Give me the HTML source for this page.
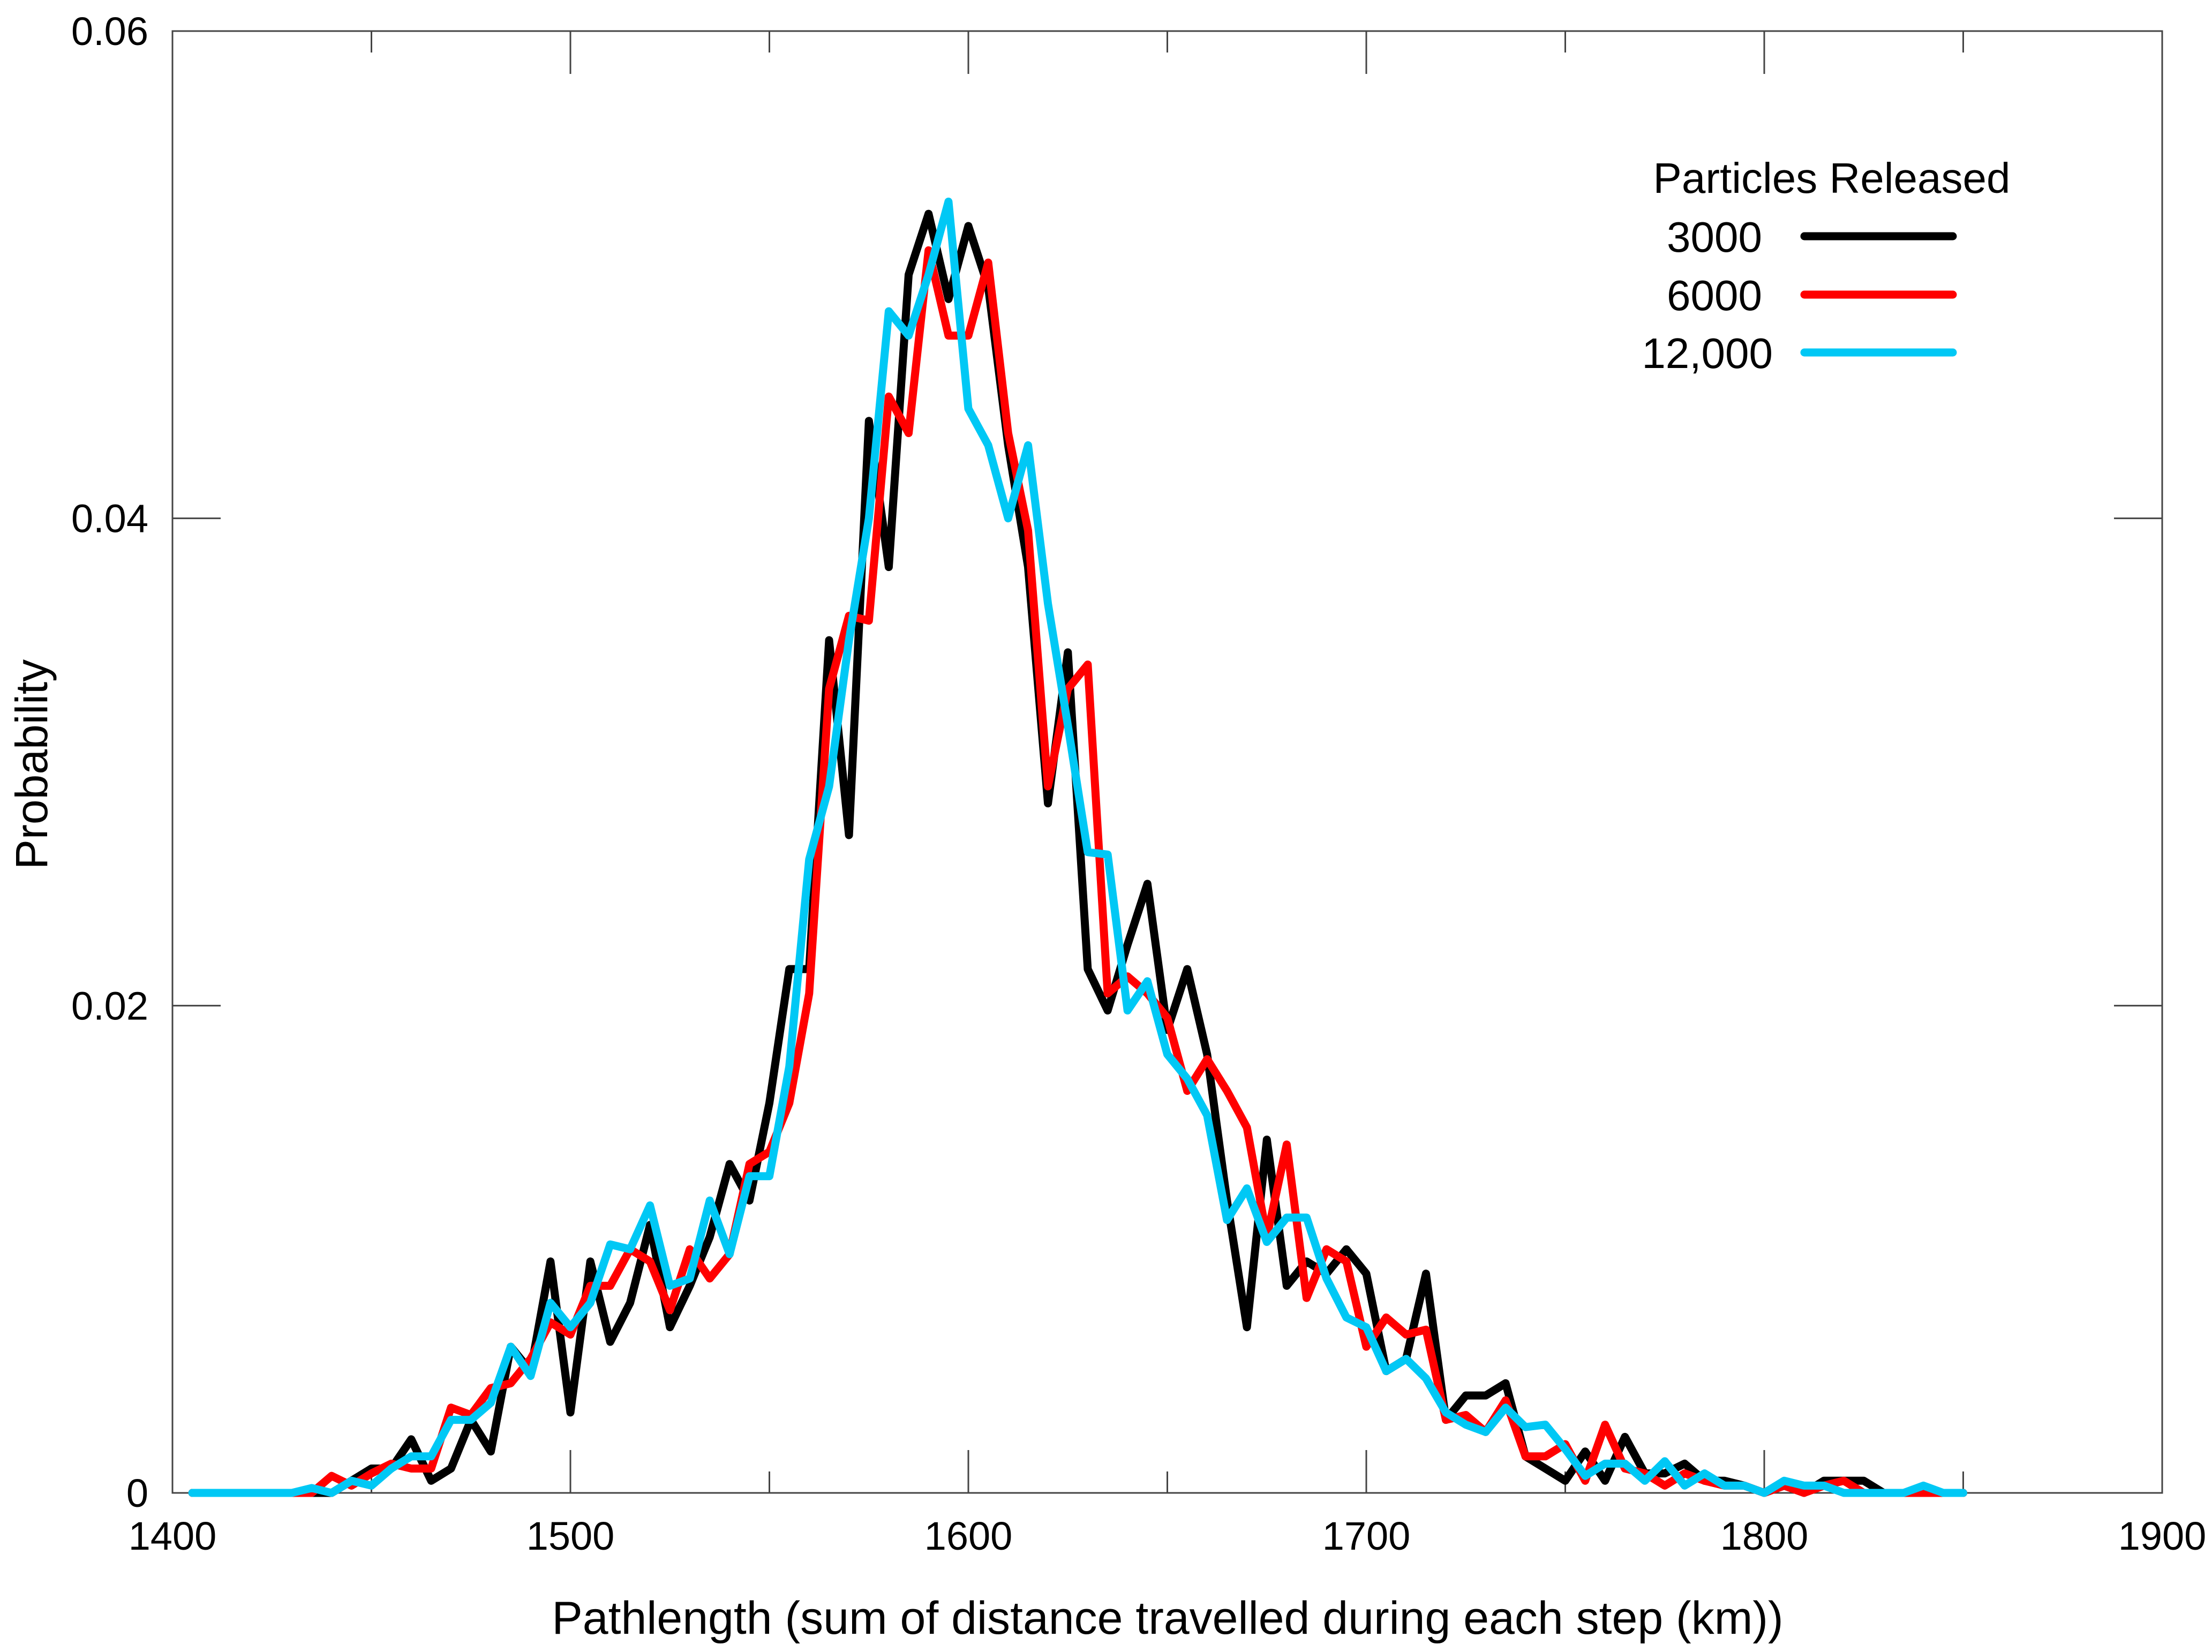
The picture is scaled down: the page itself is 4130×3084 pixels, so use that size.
<!DOCTYPE html>
<html><head><meta charset="utf-8"><style>
html,body{margin:0;padding:0;background:#fff;}
svg{display:block;font-family:"Liberation Sans",Arial,sans-serif;}
</style></head><body>
<svg id="chart" width="4130" height="3084" viewBox="0 0 4130 3084" xmlns="http://www.w3.org/2000/svg">
<rect x="0" y="0" width="4130" height="3084" fill="#fff"/>
<g id="axes"></g>
<g id="series"></g>
<text x="2180" y="3050" font-size="86" text-anchor="middle" fill="#000">Pathlength (sum of distance travelled during each step (km))</text>
<text transform="translate(88,1427) rotate(-90)" font-size="84" text-anchor="middle" fill="#000">Probability</text>
<g>
<text x="3420" y="360" font-size="80" text-anchor="middle">Particles Released</text>
<text x="3290" y="470" font-size="80" text-anchor="end">3000</text>
<line x1="3369" y1="441" x2="3646" y2="441" stroke="#000" stroke-width="15" stroke-linecap="round"/>
<text x="3290" y="579" font-size="80" text-anchor="end">6000</text>
<line x1="3369" y1="550" x2="3646" y2="550" stroke="#f00" stroke-width="15" stroke-linecap="round"/>
<text x="3310" y="687" font-size="80" text-anchor="end">12,000</text>
<line x1="3369" y1="658" x2="3646" y2="658" stroke="#00c8f5" stroke-width="15" stroke-linecap="round"/>
</g>
</svg>
<script>
const xStart = 1405, xStep = 5;
const s3000 = [0,0,0,0,0,0,0,0,0.0005,0.001,0.001,0.0022,0.0005,0.001,0.003,0.0017,0.006,0.005,0.0095,0.0033,0.0095,0.0062,0.0078,0.011,0.0068,0.0085,0.0105,0.0135,0.012,0.016,0.0215,0.0215,0.035,0.027,0.044,0.038,0.05,0.0525,0.049,0.052,0.0495,0.043,0.038,0.0283,0.0345,0.0215,0.0198,0.0225,0.025,0.019,0.0215,0.018,0.012,0.0068,0.0145,0.0085,0.0095,0.009,0.01,0.009,0.005,0.0055,0.009,0.003,0.004,0.004,0.0045,0.0015,0.001,0.0005,0.0017,0.0005,0.0023,0.0008,0.0008,0.0012,0.0005,0.0005,0.0003,0,0.0003,0,0.0005,0.0005,0.0005,0,0,0,0,0];
const s6000 = [0,0,0,0,0,0,0,0.0007,0.0003,0.0008,0.0012,0.001,0.001,0.0035,0.0032,0.0043,0.0045,0.0055,0.007,0.0065,0.0085,0.0085,0.01,0.0095,0.0075,0.01,0.0088,0.0098,0.0135,0.014,0.016,0.0205,0.033,0.036,0.0358,0.045,0.0435,0.051,0.0475,0.0475,0.0505,0.0435,0.0395,0.029,0.033,0.034,0.0205,0.0212,0.0205,0.0195,0.0165,0.0178,0.0165,0.015,0.0105,0.0143,0.008,0.01,0.0095,0.006,0.0072,0.0065,0.0067,0.003,0.0032,0.0025,0.0038,0.0015,0.0015,0.002,0.0005,0.0028,0.001,0.0008,0.0003,0.0008,0.0005,0.0003,0.0003,0,0.0003,0,0.0003,0.0005,0,0,0,0,0,0];
const s12000 = [0,0,0,0,0,0,0.0002,0,0.0005,0.0003,0.001,0.0015,0.0015,0.003,0.003,0.0037,0.006,0.0048,0.0078,0.0068,0.0078,0.0102,0.01,0.0118,0.0085,0.0088,0.012,0.0098,0.013,0.013,0.0175,0.026,0.029,0.035,0.04,0.0485,0.0475,0.05,0.053,0.0445,0.043,0.04,0.043,0.0365,0.0315,0.0263,0.0262,0.0198,0.021,0.018,0.017,0.0155,0.0112,0.0125,0.0103,0.0113,0.0113,0.0088,0.0072,0.0068,0.005,0.0055,0.0047,0.0033,0.0028,0.0025,0.0035,0.0027,0.0028,0.0018,0.0007,0.0012,0.0012,0.0005,0.0013,0.0003,0.0008,0.0003,0.0003,0,0.0005,0.0003,0.0003,0,0,0,0,0.0003,0,0];
const xTicks = [1400,1500,1600,1700,1800,1900];
const xMinor = [1450,1550,1650,1750,1850];
const yTicks = [0,0.02,0.04,0.06];
const yLabels = ["0","0.02","0.04","0.06"];

const L=322,R=4037,T=58,B=2787;
const X = v => L + (v-1400)/(1900-1400)*(R-L);
const Y = v => B - v/0.06*(B-T);
const NS="http://www.w3.org/2000/svg";
const axes=document.getElementById('axes');
function mk(tag, attrs, parent){const e=document.createElementNS(NS,tag);for(const k in attrs)e.setAttribute(k,attrs[k]);parent.appendChild(e);return e;}
const frame=mk('rect',{x:L,y:T,width:R-L,height:B-T,fill:'none',stroke:'#444','stroke-width':3},axes);


xTicks.forEach(v=>{
  const t1=mk('line',{x1:X(v),x2:X(v),y1:B,y2:B-80,stroke:'#444','stroke-width':3},axes);
  
  
  const t2=mk('line',{x1:X(v),x2:X(v),y1:T,y2:T+80,stroke:'#444','stroke-width':3},axes);
  
  
  const lb=mk('text',{x:X(v),y:2893,'font-size':74,'text-anchor':'middle',fill:'#000'},axes);
  lb.textContent=v;
  
  
});
xMinor.forEach(v=>{
  const t=mk('line',{x1:X(v),x2:X(v),y1:B,y2:B-40,stroke:'#444','stroke-width':3},axes);
  
  
  const t2=mk('line',{x1:X(v),x2:X(v),y1:T,y2:T+40,stroke:'#444','stroke-width':3},axes);
  
  
});
yTicks.forEach((v,i)=>{
  const t=mk('line',{x1:L,x2:L+90,y1:Y(v),y2:Y(v),stroke:'#444','stroke-width':3},axes);
  
  
  const t2=mk('line',{x1:R,x2:R-90,y1:Y(v),y2:Y(v),stroke:'#444','stroke-width':3},axes);
  
  
  const lb=mk('text',{x:277,y:Y(v)+26,'font-size':74,'text-anchor':'end',fill:'#000'},axes);
  lb.textContent=yLabels[i];
  
  
});
const series=document.getElementById('series');
[[s3000,'#000','line-3000'],[s6000,'#f00','line-6000'],[s12000,'#00c8f5','line-12000']].forEach(([d,c,n])=>{
  const pts=d.map((v,i)=>X(xStart+i*xStep).toFixed(1)+','+Y(v).toFixed(1)).join(' ');
  const p=mk('polyline',{points:pts,fill:'none',stroke:c,'stroke-width':15,'stroke-linejoin':'round','stroke-linecap':'round'},series);
  
  
});
</script>
</body></html>
